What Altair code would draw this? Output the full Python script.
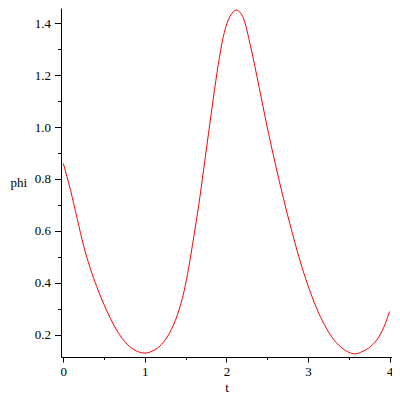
import altair as alt
import pandas as pd

t_vals = [0, 0.09, 0.17, 0.25, 0.33, 0.41, 0.5, 0.58, 0.66, 0.78, 0.9, 1.0, 1.1, 1.2,
          1.3, 1.4, 1.48, 1.54, 1.6, 1.66, 1.72, 1.78, 1.84, 1.9, 1.96, 2.02, 2.07,
          2.12, 2.2, 2.3, 2.4, 2.5, 2.6, 2.7, 2.8, 2.9, 3.0, 3.1, 3.2, 3.3, 3.4, 3.5,
          3.58, 3.66, 3.77, 3.87, 3.95, 4.0]
phi_vals = [0.86, 0.755, 0.648, 0.542, 0.457, 0.386, 0.316, 0.262, 0.215, 0.165, 0.138,
            0.130, 0.139, 0.162, 0.206, 0.278, 0.367, 0.463, 0.578, 0.698, 0.835, 0.974,
            1.112, 1.240, 1.345, 1.41, 1.438, 1.45, 1.425, 1.305, 1.155, 1.0, 0.857,
            0.724, 0.601, 0.488, 0.39, 0.307, 0.24, 0.189, 0.154, 0.133, 0.127, 0.135,
            0.156, 0.193, 0.245, 0.29]

x_ticks = [0, 0.5, 1, 1.5, 2, 2.5, 3, 3.5, 4]
y_ticks = [0.2, 0.3, 0.4, 0.5, 0.6, 0.7, 0.8, 0.9, 1.0, 1.1, 1.2, 1.3, 1.4]

df = pd.DataFrame({"t": t_vals, "phi": phi_vals})

FONT = "Liberation Serif"

x_axis = alt.Axis(
    values=x_ticks,
    labelExpr="datum.value % 1 === 0 ? format(datum.value, 'd') : ''",
    tickSize={"condition": {"test": "datum.value % 1 === 0", "value": 5}, "value": 2.5},
    grid=False, domainColor="black", tickColor="black", labelColor="black",
    labelFont=FONT, labelFontSize=13, labelPadding=3, labelFlush=False,
    labelOverlap=False,
    title="t", titleFont=FONT, titleFontSize=13, titleFontWeight="normal",
    titleColor="black", titlePadding=3,
)

y_axis = alt.Axis(
    values=y_ticks,
    labelExpr="round(datum.value * 10) % 2 === 0 ? format(datum.value, '.1f') : ''",
    tickSize={"condition": {"test": "round(datum.value * 10) % 2 === 0", "value": 6.5}, "value": 3.5},
    grid=False, domainColor="black", tickColor="black", labelColor="black",
    labelFont=FONT, labelFontSize=13, labelPadding=4, labelFlush=False,
    labelOverlap=False,
    title="phi", titleFont=FONT, titleFontSize=13, titleFontWeight="normal",
    titleColor="black", titleAngle=0, titleAlign="left", titleBaseline="middle",
    titleX=-51, titleY=174,
)

chart = alt.Chart(df).mark_line(color="#ff0000", strokeWidth=1, interpolate="monotone").encode(
    x=alt.X("t:Q", scale=alt.Scale(domain=[-0.028, 4.03], nice=False, zero=False), axis=x_axis),
    y=alt.Y("phi:Q", scale=alt.Scale(domain=[0.115, 1.458], nice=False, zero=False), axis=y_axis),
).properties(
    width=331, height=349,
    autosize=alt.AutoSizeParams(type="none"),
    padding={"left": 53, "top": 0, "right": 0, "bottom": 40},
).configure_view(stroke=None)

chart.save("out.html", embed_options={"renderer": "svg", "actions": False})
